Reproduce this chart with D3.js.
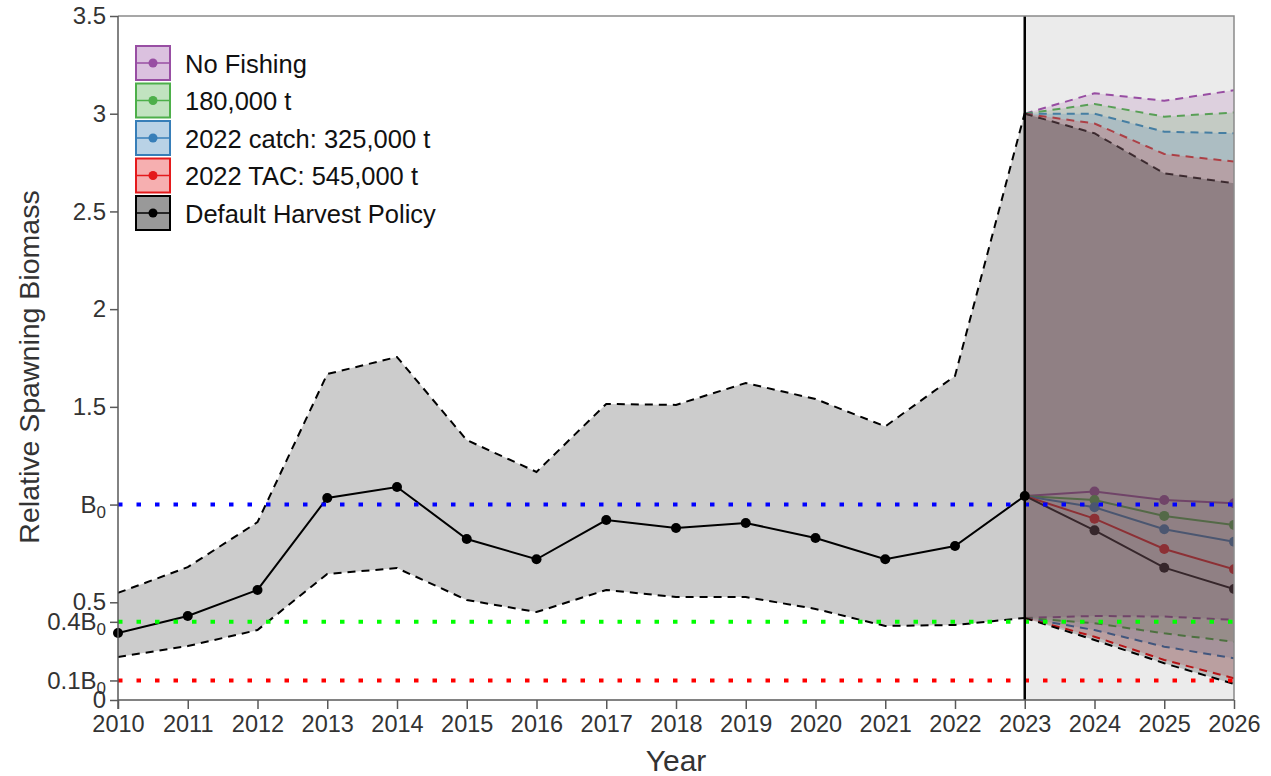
<!DOCTYPE html>
<html>
<head>
<meta charset="utf-8">
<script src="https://cdn.jsdelivr.net/npm/d3@7"></script>
<style>
  body { margin: 0; background: #fff; }
  text { font-family: "Liberation Sans", Arial, sans-serif; }
</style>
</head>
<body>
<div class="chart"></div>
<script>
// historical estimates
const histYears = [2010, 2011, 2012, 2013, 2014, 2015, 2016, 2017, 2018, 2019, 2020, 2021, 2022, 2023];
const histMedian = [0.343, 0.43, 0.563, 1.034, 1.09, 0.824, 0.72, 0.921, 0.88, 0.906, 0.829, 0.72, 0.788, 1.044];
const histUpper = [0.548, 0.68, 0.91, 1.668, 1.755, 1.33, 1.167, 1.515, 1.51, 1.622, 1.54, 1.40, 1.658, 3.004];
const histLower = [0.22, 0.276, 0.358, 0.645, 0.675, 0.512, 0.45, 0.563, 0.527, 0.527, 0.466, 0.379, 0.384, 0.42];

// projections
const projYears = [2023, 2024, 2025, 2026];
const scenarioNames = ["No Fishing", "180,000 t", "2022 catch: 325,000 t", "2022 TAC: 545,000 t", "Default Harvest Policy"];
const scenarioColors = ["#984ea3", "#4daf4a", "#377eb8", "#e41a1c", "#000000"];
const noFishingMed = [1.044, 1.067, 1.023, 1.007];
const noFishingUp = [3.0, 3.105, 3.066, 3.12];
const noFishingLo = [0.42, 0.43, 0.427, 0.41];
const c180Med = [1.044, 1.023, 0.942, 0.896];
const c180Up = [3.0, 3.05, 2.985, 3.006];
const c180Lo = [0.42, 0.393, 0.341, 0.298];
const catchMed = [1.044, 0.986, 0.874, 0.81];
const catchUp = [3.0, 3.0, 2.908, 2.9];
const catchLo = [0.42, 0.358, 0.273, 0.213];
const tacMed = [1.044, 0.928, 0.773, 0.669];
const tacUp = [3.0, 2.95, 2.794, 2.755];
const tacLo = [0.42, 0.324, 0.205, 0.111];
const dhpMed = [1.044, 0.868, 0.677, 0.568];
const dhpUp = [3.0, 2.9, 2.695, 2.644];
const dhpLo = [0.42, 0.307, 0.188, 0.082];

const xTicks = [2010, 2011, 2012, 2013, 2014, 2015, 2016, 2017, 2018, 2019, 2020, 2021, 2022, 2023, 2024, 2025, 2026];
const yTicks = [0, 0.1, 0.4, 0.5, 1, 1.5, 2, 2.5, 3, 3.5];
const yTickLabels = ["0", "0.1B", "0.4B", "0.5", "B", "1.5", "2", "2.5", "3", "3.5"];
const refLevels = [1, 0.4, 0.1];
const refColors = ["#0000ff", "#00ff00", "#ff0000"];

const scenarios = [
  {med: noFishingMed, up: noFishingUp, lo: noFishingLo},
  {med: c180Med, up: c180Up, lo: c180Lo},
  {med: catchMed, up: catchUp, lo: catchLo},
  {med: tacMed, up: tacUp, lo: tacLo},
  {med: dhpMed, up: dhpUp, lo: dhpLo}
].map((s, i) => ({...s, name: scenarioNames[i], color: scenarioColors[i]}));

const W = 1271, H = 776;
const pLeft = 118, pRight = 1234, pTop = 16, pBottom = 700;

const svg = d3.select(".chart").append("svg")
    .attr("width", W)
    .attr("height", H);

svg.append("defs").append("clipPath").attr("id", "plotclip")
  .append("rect")
    .attr("x", pLeft).attr("y", pTop)
    .attr("width", pRight - pLeft).attr("height", pBottom - pTop);

const x = d3.scaleLinear().domain([2010, 2026]).range([pLeft, pRight]);
const y = d3.scaleLinear().domain([0, 3.5]).range([pBottom, pTop]);

const axisCol = "#595959";
const plot = svg.append("g").attr("clip-path", "url(#plotclip)");

// projection background
plot.append("rect")
    .attr("x", x(2023)).attr("y", pTop)
    .attr("width", x(2026) - x(2023)).attr("height", pBottom - pTop)
    .attr("fill", "#ebebeb");

// historical ribbon
const area = d3.area().x(d => x(d[0])).y0(d => y(d[1])).y1(d => y(d[2]));
const histRows = histYears.map((yr, i) => [yr, histLower[i], histUpper[i], histMedian[i]]);
plot.append("path").datum(histRows)
    .attr("d", area).attr("fill", "#cccccc");

const line = d3.line().x(d => x(d[0])).y(d => y(d[1]));

[histUpper, histLower].forEach(arr => {
  plot.append("path").datum(histYears.map((yr, i) => [yr, arr[i]]))
      .attr("d", line).attr("fill", "none")
      .attr("stroke", "#000").attr("stroke-width", 2)
      .attr("stroke-dasharray", "8,6");
});

plot.append("path").datum(histYears.map((yr, i) => [yr, histMedian[i]]))
    .attr("d", line).attr("fill", "none")
    .attr("stroke", "#000").attr("stroke-width", 2);

svg.append("g").selectAll("circle")
    .data(histYears.map((yr, i) => [yr, histMedian[i]]))
    .enter().append("circle")
    .attr("cx", d => x(d[0])).attr("cy", d => y(d[1]))
    .attr("r", 5).attr("fill", "#000");

// projection lines (drawn under the ribbons)
scenarios.forEach(s => {
  [s.up, s.lo].forEach(arr => {
    plot.append("path").datum(projYears.map((yr, i) => [yr, arr[i]]))
        .attr("d", line).attr("fill", "none")
        .attr("stroke", s.color).attr("stroke-width", 2)
        .attr("stroke-dasharray", "8,6");
  });
  const pts = projYears.map((yr, i) => [yr, s.med[i]]);
  plot.append("path").datum(pts)
      .attr("d", line).attr("fill", "none")
      .attr("stroke", s.color).attr("stroke-width", 2);
  plot.append("g").selectAll("circle").data(pts.slice(1))
      .enter().append("circle")
      .attr("cx", d => x(d[0])).attr("cy", d => y(d[1]))
      .attr("r", 5).attr("fill", s.color);
});

// projection ribbons
scenarios.forEach((s, k) => {
  plot.append("path").datum(projYears.map((yr, i) => [yr, s.lo[i], s.up[i]]))
      .attr("d", area)
      .attr("fill", s.color)
      .attr("fill-opacity", k === 4 ? 0.2 : 0.17);
});

// reference levels
refLevels.forEach((v, i) => {
  svg.append("line")
      .attr("x1", pLeft).attr("x2", pRight)
      .attr("y1", y(v)).attr("y2", y(v))
      .attr("stroke", refColors[i]).attr("stroke-width", 4)
      .attr("stroke-dasharray", "4.5,14");
});

// 2023 divider
svg.append("line")
    .attr("x1", x(2023)).attr("x2", x(2023))
    .attr("y1", pTop).attr("y2", pBottom)
    .attr("stroke", "#000").attr("stroke-width", 2.5);

// frame
svg.append("path")
    .attr("d", `M${pLeft},${pTop}H${pRight}V${pBottom}`)
    .attr("fill", "none").attr("stroke", "#8a8a8a").attr("stroke-width", 1.5);

// axes
const xAxis = d3.axisBottom(x).tickValues(xTicks).tickFormat(d3.format("d")).tickSize(9).tickPadding(6);
const gx = svg.append("g")
    .attr("transform", `translate(0,${pBottom})`)
    .call(xAxis);
gx.select(".domain").attr("stroke", axisCol).attr("stroke-width", 1.5).attr("d", `M${pLeft},0H${pRight}`);
gx.selectAll(".tick line").attr("stroke", axisCol).attr("stroke-width", 1.5);
gx.selectAll(".tick text").attr("fill", "#333").style("font-size", "23.5px")
    .style("font-family", "Liberation Sans, Arial, sans-serif");

const yAxis = d3.axisLeft(y).tickValues(yTicks).tickSize(8).tickPadding(4).tickFormat(() => "");
const gy = svg.append("g")
    .attr("transform", `translate(${pLeft},0)`)
    .call(yAxis);
gy.select(".domain").attr("stroke", axisCol).attr("stroke-width", 1.5).attr("d", `M0,${pTop}V${pBottom + 9}`);
gy.selectAll(".tick line").attr("stroke", axisCol).attr("stroke-width", 1.5);
gy.selectAll(".tick text").each(function(d) {
  const t = d3.select(this)
      .attr("fill", "#333").style("font-size", "24px")
      .style("font-family", "Liberation Sans, Arial, sans-serif");
  const lab = yTickLabels[yTicks.indexOf(d)];
  t.text(null);
  t.append("tspan").text(lab);
  if (lab.endsWith("B")) {
    t.append("tspan").attr("dy", "0.3em").style("font-size", "17px").text("0");
  }
});

// axis titles
svg.append("text")
    .attr("x", (pLeft + pRight) / 2).attr("y", 771)
    .attr("text-anchor", "middle")
    .attr("fill", "#333").style("font-size", "30px")
    .text("Year");

svg.append("text")
    .attr("transform", `translate(39,367) rotate(-90)`)
    .attr("text-anchor", "middle")
    .attr("fill", "#333").style("font-size", "28.5px")
    .text("Relative Spawning Biomass");

// legend
const legend = svg.append("g").attr("transform", "translate(136,46)");
const rows = legend.selectAll("g").data(scenarios).enter().append("g")
    .attr("transform", (d, i) => `translate(0,${i * 37.5})`);
rows.append("rect")
    .attr("x", 0).attr("y", 0).attr("width", 34).attr("height", 34)
    .attr("fill", d => d.color === "#000000" ? "#999999" : d.color)
    .attr("fill-opacity", d => d.color === "#000000" ? 1 : 0.35)
    .attr("stroke", d => d.color).attr("stroke-width", 2);
rows.append("line")
    .attr("x1", 0).attr("x2", 34).attr("y1", 17).attr("y2", 17)
    .attr("stroke", d => d.color).attr("stroke-width", 1.5);
rows.append("circle")
    .attr("cx", 17).attr("cy", 17).attr("r", 4.5)
    .attr("fill", d => d.color);
rows.append("text")
    .attr("x", 49).attr("y", 18).attr("dy", "0.35em")
    .attr("fill", "#111").style("font-size", "25.5px")
    .text(d => d.name);
</script>
</body>
</html>
